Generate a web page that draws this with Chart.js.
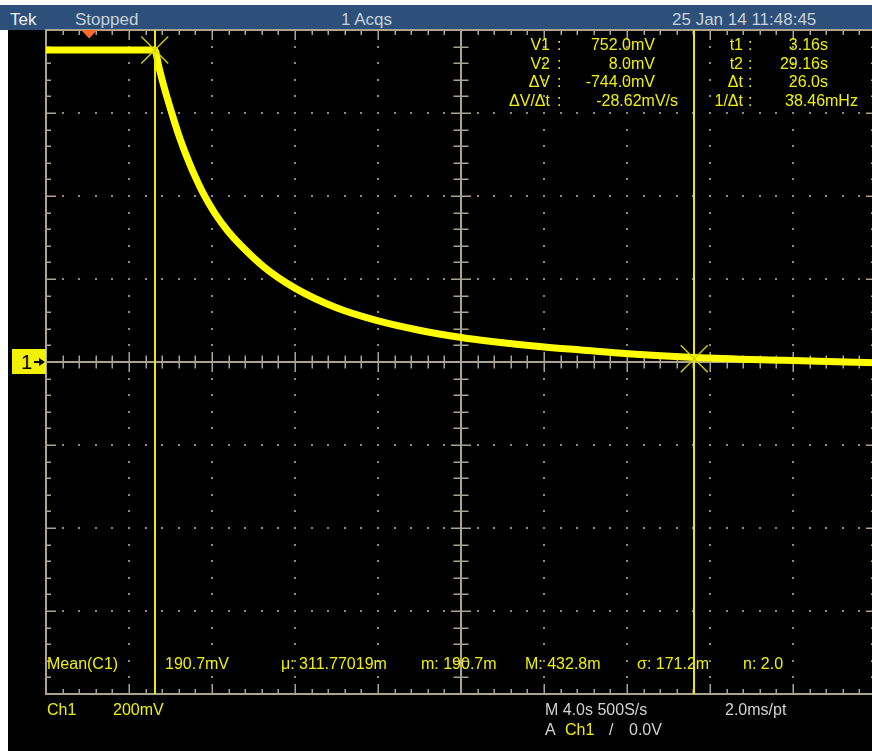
<!DOCTYPE html>
<html>
<head>
<meta charset="utf-8">
<script src="https://cdn.jsdelivr.net/npm/chart.js@4"></script>
<style>
  html, body { margin: 0; padding: 0; background: #fff; overflow: hidden; width: 872px; height: 751px; }
  #scope { position: absolute; left: 0; top: 0; width: 872px; height: 751px; overflow: hidden; background: #fff; }
  #bar { position: absolute; left: 0; top: 5px; width: 872px; height: 25px; background: #2c5079; }
  #screen { position: absolute; left: 8px; top: 30px; width: 864px; height: 721px; background: #000; }
  #wrap { position: absolute; left: 0; top: 0; width: 884px; height: 751px; }
  .t { position: absolute; white-space: nowrap; font-family: "Liberation Sans", Arial, sans-serif; font-size: 16px; line-height: 18px; }
  .hd { font-size: 17px; line-height: 20px; top: 10px; color: #c9d0d8; }
  .y { color: #f0f000; }
  .g { color: #d2d2d2; }
  .r { text-align: right; }
  #gnd { position: absolute; left: 12px; width: 34px; height: 25px; background: #f2f200; color: #000;
         font-family: "Liberation Sans", Arial, sans-serif; }
  #gnd .one { position: absolute; left: 9px; top: 2px; font-size: 20px; line-height: 22px; }
  #gnd .stem { position: absolute; left: 22px; top: 12px; width: 5px; height: 2px; background: #000; }
  #gnd .head { position: absolute; left: 27px; top: 9px; width: 0; height: 0;
               border-top: 4px solid transparent; border-bottom: 4px solid transparent; border-left: 6px solid #000; }
</style>
</head>
<body>
<div id="scope">
  <div id="bar"></div>
  <div id="screen"></div>

  <div class="t hd" style="left:10px;color:#f2f2f2;">Tek</div>
  <div class="t hd" style="left:75px;">Stopped</div>
  <div class="t hd" style="left:341px;">1 Acqs</div>
  <div class="t hd" style="left:672px;">25 Jan 14 11:48:45</div>

  <div id="wrap"><canvas id="c" width="884" height="751"></canvas></div>

  <div id="gnd"><span class="one">1</span><span class="stem"></span><span class="head"></span></div>

  <!-- cursor readouts -->
  <div class="t y r" style="left:450px;width:100px;top:36px;">V1</div>
  <div class="t y r" style="left:450px;width:100px;top:55px;">V2</div>
  <div class="t y r" style="left:450px;width:100px;top:73px;">&#916;V</div>
  <div class="t y r" style="left:450px;width:100px;top:92px;">&#916;V/&#916;t</div>
  <div class="t y" style="left:557px;top:36px;">:</div>
  <div class="t y" style="left:557px;top:55px;">:</div>
  <div class="t y" style="left:557px;top:73px;">:</div>
  <div class="t y" style="left:557px;top:92px;">:</div>
  <div class="t y r" id="rV1" style="left:555px;width:100px;top:36px;"></div>
  <div class="t y r" id="rV2" style="left:555px;width:100px;top:55px;"></div>
  <div class="t y r" id="rDV" style="left:555px;width:100px;top:73px;"></div>
  <div class="t y r" id="rSlope" style="left:548px;width:130px;top:92px;"></div>

  <div class="t y r" style="left:643px;width:100px;top:36px;">t1</div>
  <div class="t y r" style="left:643px;width:100px;top:55px;">t2</div>
  <div class="t y r" style="left:643px;width:100px;top:73px;">&#916;t</div>
  <div class="t y r" style="left:643px;width:100px;top:92px;">1/&#916;t</div>
  <div class="t y" style="left:748px;top:36px;">:</div>
  <div class="t y" style="left:748px;top:55px;">:</div>
  <div class="t y" style="left:748px;top:73px;">:</div>
  <div class="t y" style="left:748px;top:92px;">:</div>
  <div class="t y r" id="rT1" style="left:728px;width:100px;top:36px;"></div>
  <div class="t y r" id="rT2" style="left:728px;width:100px;top:55px;"></div>
  <div class="t y r" id="rDT" style="left:728px;width:100px;top:73px;"></div>
  <div class="t y" id="rFreq" style="left:785px;top:92px;"></div>

  <!-- measurement row -->
  <div class="t y" style="left:47px;top:655px;">Mean(C1)</div>
  <div class="t y" style="left:165px;top:655px;">190.7mV</div>
  <div class="t y" style="left:281px;top:655px;">&#956;: 311.77019m</div>
  <div class="t y" style="left:421px;top:655px;">m: 190.7m</div>
  <div class="t y" style="left:525px;top:655px;">M: 432.8m</div>
  <div class="t y" style="left:637px;top:655px;">&#963;: 171.2m</div>
  <div class="t y" style="left:743px;top:655px;">n: 2.0</div>

  <!-- status lines -->
  <div class="t y" style="left:47px;top:701px;">Ch1</div>
  <div class="t y" style="left:113px;top:701px;">200mV</div>
  <div class="t g" style="left:545px;top:701px;">M 4.0s 500S/s</div>
  <div class="t g" style="left:725px;top:701px;">2.0ms/pt</div>
  <div class="t g" style="left:545px;top:721px;">A</div>
  <div class="t y" style="left:565px;top:721px;">Ch1</div>
  <div class="t g" style="left:609px;top:721px;">/</div>
  <div class="t g" style="left:629px;top:721px;">0.0V</div>
</div>

<script>
// Ch1 record: time in seconds from the trigger, level in millivolts
const timeS = [-2.08, -1.0, 0.0, 1.0, 2.0, 3.0, 3.16, 3.35, 3.55, 3.74, 3.98, 4.27, 4.51, 4.85, 5.09,
               5.48, 6.06, 6.69, 7.27, 8.47, 9.92, 11.95, 13.93, 15.96, 17.94, 19.3, 21.95,
               23.7, 25.97, 29.16, 33.5, 37.92];
const ch1mV = [752, 752, 752, 752, 752, 752, 752, 713, 674, 640, 600, 554, 520, 477, 449,
               408, 358, 315, 283, 227, 178, 130, 99, 76, 59, 50, 36,
               29, 20, 11, 4, -2];

// Graticule: 10 divisions at 4.0 s/div, 8 divisions at 200 mV/div
const timeDivs = [-2.08, 1.92, 5.92, 9.92, 13.92, 17.92, 21.92, 25.92, 29.92, 33.92, 37.92];
const voltDivs = [-800, -600, -400, -200, 0, 200, 400, 600, 800];

// Cursor pair and trigger point
const cursorT = [3.16, 29.16];
const cursorV = [752.0, 8.0];
const triggerT = 0;

const GRAT = '#aaa38f';
const DOT = '#8f8a7a';
const CURSOR = '#ece600';

function minorSteps(divs) {
  const out = [];
  for (let i = 0; i < divs.length - 1; i++) {
    for (let m = 0; m < 5; m++) out.push({ v: divs[i] + (divs[i + 1] - divs[i]) * m / 5, major: m === 0 });
  }
  out.push({ v: divs[divs.length - 1], major: true });
  return out;
}

const graticule = {
  id: 'graticule',
  beforeDatasetsDraw(chart) {
    const { ctx, chartArea: a, scales: { x, y } } = chart;
    const xm = minorSteps(timeDivs), ym = minorSteps(voltDivs);
    const cx = Math.round(x.getPixelForValue(timeDivs[5]));
    const cy = Math.round(y.getPixelForValue(voltDivs[4]));
    ctx.save();
    // dotted division lines
    ctx.fillStyle = DOT;
    for (let i = 1; i < timeDivs.length - 1; i++) {
      if (i === 5) continue;
      const px = Math.round(x.getPixelForValue(timeDivs[i]));
      ym.forEach(s => { ctx.fillRect(px - 1, Math.round(y.getPixelForValue(s.v)) - 1, 2, 2); });
    }
    for (let j = 1; j < voltDivs.length - 1; j++) {
      if (j === 4) continue;
      const py = Math.round(y.getPixelForValue(voltDivs[j]));
      xm.forEach(s => { ctx.fillRect(Math.round(x.getPixelForValue(s.v)) - 1, py - 1, 2, 2); });
    }
    ctx.strokeStyle = GRAT;
    // center axes
    ctx.lineWidth = 2;
    ctx.beginPath();
    ctx.moveTo(a.left, cy); ctx.lineTo(a.right, cy);
    ctx.moveTo(cx, a.top); ctx.lineTo(cx, a.bottom);
    ctx.stroke();
    ctx.lineWidth = 1.5;
    ctx.beginPath();
    xm.forEach(s => {
      const px = Math.round(x.getPixelForValue(s.v)) + 0.25;
      const h = s.major ? 10 : 6.5;
      ctx.moveTo(px, cy - h); ctx.lineTo(px, cy + h);
      // frame ticks, top and bottom
      const f = s.major ? 10 : 5;
      ctx.moveTo(px, a.top); ctx.lineTo(px, a.top + f);
      ctx.moveTo(px, a.bottom); ctx.lineTo(px, a.bottom - f);
    });
    ym.forEach(s => {
      const py = Math.round(y.getPixelForValue(s.v)) + 0.25;
      const h = s.major ? 10 : 7.5;
      ctx.moveTo(cx - h, py); ctx.lineTo(cx + h, py);
      const f = s.major ? 10 : 5;
      ctx.moveTo(a.left, py); ctx.lineTo(a.left + f, py);
      ctx.moveTo(a.right, py); ctx.lineTo(a.right - f, py);
    });
    ctx.stroke();
    // frame
    ctx.lineWidth = 2;
    ctx.strokeRect(Math.round(a.left), Math.round(a.top), Math.round(a.right - a.left), Math.round(a.bottom - a.top));
    ctx.restore();
  }
};

const cursors = {
  id: 'cursors',
  afterDatasetsDraw(chart) {
    const { ctx, chartArea: a, scales: { x, y } } = chart;
    ctx.save();
    ctx.strokeStyle = CURSOR;
    ctx.lineWidth = 2;
    cursorT.forEach(t => {
      const px = Math.round(x.getPixelForValue(t));
      ctx.beginPath(); ctx.moveTo(px, a.top); ctx.lineTo(px, a.bottom); ctx.stroke();
    });
    // crosshair where each cursor meets the trace
    ctx.lineWidth = 1.3;
    ctx.strokeStyle = '#d9d200';
    cursorT.forEach((t, i) => {
      const px = x.getPixelForValue(t), py = y.getPixelForValue(cursorV[i]);
      const r = 13.5;
      ctx.beginPath();
      ctx.moveTo(px - r, py - r); ctx.lineTo(px + r, py + r);
      ctx.moveTo(px + r, py - r); ctx.lineTo(px - r, py + r);
      ctx.stroke();
    });
    // trigger position marker
    const tx = x.getPixelForValue(triggerT);
    ctx.fillStyle = '#ff6a2c';
    ctx.beginPath();
    ctx.moveTo(tx - 8, a.top); ctx.lineTo(tx + 8, a.top); ctx.lineTo(tx, a.top + 8.5);
    ctx.closePath(); ctx.fill();
    ctx.restore();
  }
};

const chart = new Chart(document.getElementById('c'), {
  type: 'line',
  data: {
    datasets: [{
      label: 'Ch1',
      data: timeS.map((t, i) => ({ x: t, y: ch1mV[i] })),
      borderColor: '#ffff00',
      borderWidth: 7,
      pointRadius: 0,
      fill: false,
      cubicInterpolationMode: 'monotone',
      borderJoinStyle: 'round'
    }]
  },
  options: {
    responsive: false,
    animation: false,
    devicePixelRatio: 1,
    events: [],
    layout: { padding: { left: 46, top: 30, right: 8, bottom: 57 } },
    scales: {
      x: { type: 'linear', min: timeDivs[0], max: timeDivs[timeDivs.length - 1], display: false },
      y: { type: 'linear', min: voltDivs[0], max: voltDivs[voltDivs.length - 1], display: false }
    },
    plugins: { legend: { display: false }, tooltip: { enabled: false } }
  },
  plugins: [graticule, cursors]
});

// ground reference marker at 0 V
document.getElementById('gnd').style.top = (Math.round(chart.scales.y.getPixelForValue(0)) - 13) + 'px';

// cursor readouts derived from the cursor pair
const dV = cursorV[1] - cursorV[0];
const dT = cursorT[1] - cursorT[0];
document.getElementById('rV1').textContent = cursorV[0].toFixed(1) + 'mV';
document.getElementById('rV2').textContent = cursorV[1].toFixed(1) + 'mV';
document.getElementById('rDV').textContent = dV.toFixed(1) + 'mV';
document.getElementById('rSlope').textContent = (dV / dT).toFixed(2) + 'mV/s';
document.getElementById('rT1').textContent = cursorT[0].toFixed(2) + 's';
document.getElementById('rT2').textContent = cursorT[1].toFixed(2) + 's';
document.getElementById('rDT').textContent = dT.toFixed(1) + 's';
document.getElementById('rFreq').textContent = (1000 / dT).toFixed(2) + 'mHz';
</script>
</body>
</html>
